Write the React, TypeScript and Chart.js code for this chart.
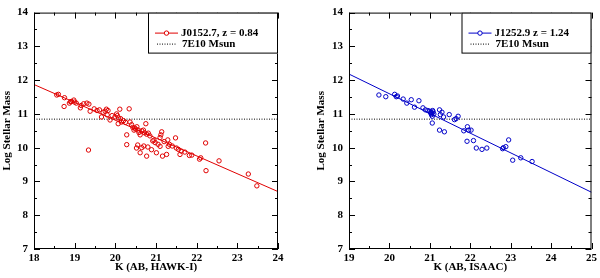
import React, { useEffect, useRef } from "react";
import { Chart, registerables } from "chart.js";
Chart.register(...registerables);

// ---------- data ----------
const LEFT_LABEL = "J0152.7, z = 0.84";
const RIGHT_LABEL = "J1252.9 z = 1.24";
const LIMIT_LABEL = "7E10 Msun";
const MASS_LIMIT = 10.845;

const LEFT_X = [
  18.56, 18.6, 18.75, 18.74, 18.87, 18.9, 18.92, 18.98, 19.0, 19.04, 19.14, 19.16, 19.22, 19.3,
  19.35, 19.38, 19.34, 19.48, 19.55, 19.61, 19.66, 19.7, 19.75, 19.78, 19.8, 19.82, 19.87, 19.92,
  19.99, 20.03, 20.05, 20.08, 20.11, 20.07, 20.13, 20.15, 20.2, 20.25, 20.34, 20.28, 20.36, 20.4,
  20.43, 20.46, 20.48, 20.5, 20.53, 20.56, 20.58, 20.61, 20.65, 20.69, 20.72, 20.75, 20.77, 20.81,
  20.85, 20.28, 20.52, 20.55, 20.61, 20.65, 20.7, 20.77, 20.8, 20.89, 20.92, 20.95, 20.98, 21.01,
  21.05, 21.1, 21.12, 21.14, 21.1, 21.16, 21.2, 21.26, 21.29, 21.3, 21.33, 21.4, 21.48, 21.5,
  21.55, 21.59, 21.62, 21.71, 21.82, 21.88, 22.07, 22.1, 22.22, 22.23, 22.55, 23.27, 23.48,
];
const LEFT_Y = [
  11.56, 11.58, 11.48, 11.22, 11.32, 11.36, 11.37, 11.41, 11.35, 11.32, 11.18, 11.25, 11.3, 11.32,
  11.29, 11.08, 9.93, 11.15, 11.1, 11.12, 10.91, 11.05, 11.08, 11.14, 10.97, 11.1, 10.82, 10.95,
  10.91, 11.0, 10.95, 10.88, 11.14, 10.71, 10.86, 10.76, 10.8, 10.75, 11.15, 10.38, 10.76, 10.68,
  10.6, 10.52, 10.58, 10.55, 10.62, 10.52, 10.45, 10.38, 10.5, 10.52, 10.44, 10.71, 10.4, 10.43,
  10.35, 10.09, 9.99, 10.08, 9.85, 10.0, 10.05, 9.75, 10.02, 9.94, 10.2, 10.22, 10.15, 9.85,
  10.1, 10.04, 10.38, 10.47, 10.3, 9.75, 10.18, 9.8, 10.23, 10.04, 10.1, 10.05, 10.29, 9.99,
  9.95, 9.8, 9.9, 9.87, 9.77, 9.78, 9.66, 9.7, 10.14, 9.32, 9.61, 9.22, 8.87,
];
const LEFT_FIT_X = [18, 24];
const LEFT_FIT_Y = [11.87, 8.7];

const RIGHT_X = [
  19.74, 19.91, 20.13, 20.17, 20.2, 20.34, 20.43, 20.54, 20.62, 20.73, 20.83, 20.89, 20.95, 21.0,
  21.02, 21.03, 21.04, 21.05, 21.06, 21.06, 21.07, 21.08, 21.1, 21.24, 21.26, 21.3, 21.34, 21.24,
  21.36, 21.48, 21.61, 21.65, 21.7, 21.84, 21.93, 21.96, 22.02, 21.92, 22.08, 22.15, 22.29, 22.41,
  22.8, 22.82, 22.88, 22.95, 23.05, 23.25, 23.53,
];
const RIGHT_Y = [
  11.56, 11.51, 11.58, 11.51, 11.53, 11.44, 11.32, 11.42, 11.2, 11.39, 11.18, 11.12, 11.1, 11.08,
  11.03, 11.05, 10.98, 11.02, 10.93, 10.73, 11.1, 11.06, 11.0, 11.12, 10.98, 11.05, 10.91, 10.52,
  10.47, 10.98, 10.83, 10.86, 10.93, 10.5, 10.62, 10.52, 10.52, 10.19, 10.21, 9.99, 9.95, 9.99,
  9.97, 10.0, 10.03, 10.23, 9.63, 9.7, 9.59,
];
const RIGHT_FIT_X = [19, 25];
const RIGHT_FIT_Y = [12.18, 8.68];

const Y_MIN = 7;
const Y_MAX = 14;

// ---------- styling ----------
const FONT_FAMILY = "'Liberation Serif', 'DejaVu Serif', serif";
const RED = "#e00000";
const BLUE = "#0000c8";

const frameTicks = {
  id: "frameTicks",
  afterDatasetsDraw(chart: any) {
    const { ctx, chartArea: a, scales } = chart;
    const xs = scales.x;
    const ys = scales.y;
    ctx.save();
    ctx.strokeStyle = "#000";
    ctx.lineWidth = 1;
    ctx.strokeRect(a.left + 0.5, a.top + 0.5, a.right - a.left - 1, a.bottom - a.top - 1);
    ctx.beginPath();
    for (let v = xs.min; v <= xs.max + 1e-9; v += 0.5) {
      const p = Math.round(xs.getPixelForValue(v)) + 0.5;
      const len = Math.abs(v - Math.round(v)) < 1e-6 ? 6 : 3;
      ctx.moveTo(p, a.bottom);
      ctx.lineTo(p, a.bottom - len);
      ctx.moveTo(p, a.top);
      ctx.lineTo(p, a.top + len);
    }
    for (let v = ys.min; v <= ys.max + 1e-9; v += 0.5) {
      const p = Math.round(ys.getPixelForValue(v)) + 0.5;
      const len = Math.abs(v - Math.round(v)) < 1e-6 ? 6 : 3;
      ctx.moveTo(a.left, p);
      ctx.lineTo(a.left + len, p);
      ctx.moveTo(a.right, p);
      ctx.lineTo(a.right - len, p);
    }
    ctx.stroke();
    ctx.restore();
  },
  afterDraw(chart: any) {
    const { ctx, chartArea: a } = chart;
    const ds = chart.data.datasets;
    const pts = ds[0];
    const lim = ds[2];
    const w = 130;
    const h = 41;
    const x0 = a.right - w;
    const y0 = a.top;
    ctx.save();
    ctx.fillStyle = "#fff";
    ctx.fillRect(x0, y0, w, h);
    ctx.strokeStyle = "#000";
    ctx.lineWidth = 1;
    ctx.strokeRect(x0 + 0.5, y0 + 0.5, w - 1, h - 1);
    // entry 1
    const r1 = y0 + 20.5;
    ctx.strokeStyle = pts.borderColor;
    ctx.beginPath();
    ctx.moveTo(x0 + 7, r1);
    ctx.lineTo(x0 + 30, r1);
    ctx.stroke();
    ctx.beginPath();
    ctx.fillStyle = "#fff";
    ctx.arc(x0 + 18.5, r1, 2.2, 0, Math.PI * 2);
    ctx.fill();
    ctx.stroke();
    // entry 2
    const r2 = y0 + 31.5;
    ctx.strokeStyle = "#000";
    ctx.setLineDash([1, 1.5]);
    ctx.beginPath();
    ctx.moveTo(x0 + 9, r2);
    ctx.lineTo(x0 + 28, r2);
    ctx.stroke();
    ctx.setLineDash([]);
    ctx.fillStyle = "#000";
    ctx.font = `bold 11px ${FONT_FAMILY}`;
    ctx.textBaseline = "middle";
    ctx.textAlign = "left";
    ctx.fillText(pts.label, x0 + 33, r1);
    ctx.fillText(lim.label, x0 + 34, r2);
    ctx.restore();
  },
};

type PanelCfg = {
  xs: number[];
  ys: number[];
  fitX: number[];
  fitY: number[];
  xMin: number;
  xMax: number;
  label: string;
  xTitle: string;
  color: string;
  padLeft: number;
  padRight: number;
  yWidth: number;
};

function makeConfig(p: PanelCfg): any {
  const font = { family: FONT_FAMILY, size: 11, weight: "bold" as const };
  return {
    type: "scatter",
    data: {
      datasets: [
        {
          label: p.label,
          data: p.xs.map((x, i) => ({ x, y: p.ys[i] })),
          showLine: false,
          pointStyle: "circle",
          pointRadius: 2.2,
          pointBorderWidth: 1,
          borderColor: p.color,
          backgroundColor: "rgba(255,255,255,0)",
          pointBackgroundColor: "rgba(255,255,255,0)",
          pointBorderColor: p.color,
        },
        {
          label: "fit",
          data: p.fitX.map((x, i) => ({ x, y: p.fitY[i] })),
          showLine: true,
          pointRadius: 0,
          borderWidth: 1,
          borderColor: p.color,
        },
        {
          label: LIMIT_LABEL,
          data: [
            { x: p.xMin, y: MASS_LIMIT },
            { x: p.xMax, y: MASS_LIMIT },
          ],
          showLine: true,
          pointRadius: 0,
          borderWidth: 1,
          borderColor: "#000",
          borderDash: [1, 1.5],
        },
      ],
    },
    options: {
      responsive: false,
      animation: false,
      devicePixelRatio: 1,
      layout: { padding: { top: 6, right: p.padRight, left: p.padLeft, bottom: 0 } },
      plugins: { legend: { display: false }, tooltip: { enabled: false } },
      scales: {
        x: {
          type: "linear",
          min: p.xMin,
          max: p.xMax,
          ticks: { stepSize: 1, color: "#000", font, padding: 3, maxRotation: 0 },
          grid: { display: false, drawTicks: false },
          border: { display: false },
          title: { display: true, text: p.xTitle, color: "#000", font, padding: { top: 0, bottom: 4 } },
          afterFit: (s: any) => {
            s.height = 29;
          },
        },
        y: {
          type: "linear",
          min: Y_MIN,
          max: Y_MAX,
          ticks: { stepSize: 1, color: "#000", font, padding: 6 },
          grid: { display: false, drawTicks: false },
          border: { display: false },
          title: { display: true, text: "Log Stellar Mass", color: "#000", font, padding: { top: 1, bottom: 0 } },
          afterFit: (s: any) => {
            s.width = p.yWidth;
          },
        },
      },
    },
    plugins: [frameTicks],
  };
}

function Panel({ cfg }: { cfg: PanelCfg }) {
  const ref = useRef<HTMLCanvasElement | null>(null);
  useEffect(() => {
    if (!ref.current) return;
    const chart = new Chart(ref.current, makeConfig(cfg));
    return () => chart.destroy();
  }, [cfg]);
  return <canvas ref={ref} width={300} height={278} style={{ display: "block", width: 300, height: 278 }} />;
}

const LEFT_CFG: PanelCfg = {
  xs: LEFT_X,
  ys: LEFT_Y,
  fitX: LEFT_FIT_X,
  fitY: LEFT_FIT_Y,
  xMin: 18,
  xMax: 24,
  label: LEFT_LABEL,
  xTitle: "K (AB, HAWK-I)",
  color: RED,
  padLeft: 0,
  padRight: 22,
  yWidth: 34,
};
const RIGHT_CFG: PanelCfg = {
  xs: RIGHT_X,
  ys: RIGHT_Y,
  fitX: RIGHT_FIT_X,
  fitY: RIGHT_FIT_Y,
  xMin: 19,
  xMax: 25,
  label: RIGHT_LABEL,
  xTitle: "K (AB, ISAAC)",
  color: BLUE,
  padLeft: 14,
  padRight: 7,
  yWidth: 35,
};

export default function App() {
  return (
    <div
      style={{
        position: "fixed",
        left: 0,
        top: 0,
        width: 600,
        height: 278,
        display: "flex",
        background: "#fff",
      }}
    >
      <Panel cfg={LEFT_CFG} />
      <Panel cfg={RIGHT_CFG} />
    </div>
  );
}
